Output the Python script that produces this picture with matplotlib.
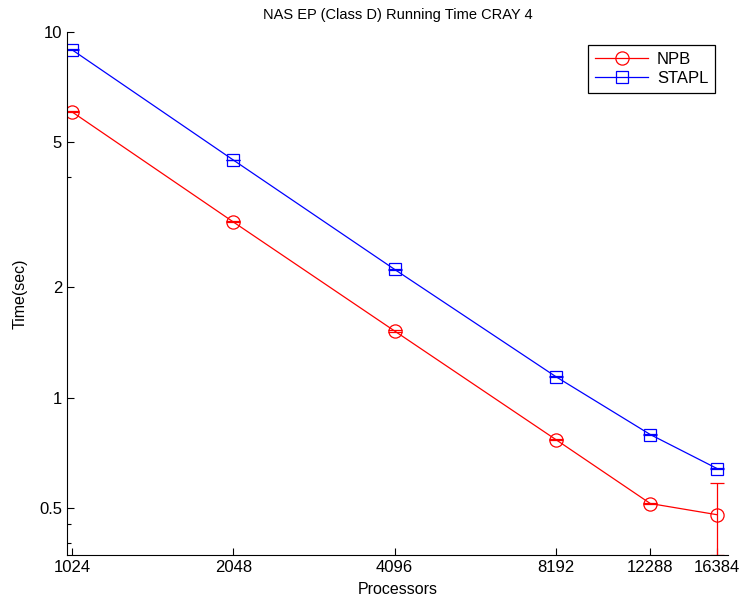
import matplotlib
matplotlib.use("Agg")
import matplotlib.pyplot as plt
from matplotlib.lines import Line2D
from matplotlib.ticker import FixedLocator, NullFormatter

plt.rcParams['font.family'] = ['Liberation Sans', 'DejaVu Sans']

procs = [1024, 2048, 4096, 8192, 12288, 16384]
npb = [6.04, 3.02, 1.52, 0.767, 0.513, 0.478]
npb_err = [0.02, 0.01, 0.005, 0.003, 0.003, 0.107]
stapl = [8.93, 4.46, 2.24, 1.14, 0.792, 0.639]
stapl_err = [0.02, 0.01, 0.005, 0.003, 0.003, 0.003]
yticks = [0.5, 1, 2, 5, 10]
ytick_labels = ['0.5', '1', '2', '5', '10']
yminor = [0.4, 0.45, 4]

fig = plt.figure(figsize=(7.4, 6), dpi=100)
ax = fig.add_axes([0.0905, 0.075, 0.8935, 0.872])

ax.errorbar(procs, npb, yerr=npb_err, color='red', marker='o', markersize=9.5,
            markerfacecolor='none', linewidth=0.9, elinewidth=0.9, capsize=5,
            markeredgewidth=0.9)
ax.errorbar(procs, stapl, yerr=stapl_err, color='blue', marker='s', markersize=8.5,
            markerfacecolor='none', linewidth=0.9, elinewidth=0.9, capsize=5,
            markeredgewidth=0.9)

ax.set_xscale('log')
ax.set_yscale('log')
ax.set_xlim(1002, 17170)
ax.set_ylim(0.371, 10)
ax.xaxis.set_major_locator(FixedLocator(procs))
ax.xaxis.set_minor_locator(FixedLocator([]))
ax.set_xticklabels([str(p) for p in procs])
ax.yaxis.set_major_locator(FixedLocator(yticks))
ax.set_yticklabels(ytick_labels)
ax.yaxis.set_minor_locator(FixedLocator(yminor))
ax.yaxis.set_minor_formatter(NullFormatter())

ax.spines['top'].set_visible(False)
ax.spines['right'].set_visible(False)
ax.tick_params(direction='in', which='major', length=5, labelsize=12, width=0.8)
ax.tick_params(direction='in', which='minor', length=3, width=0.8)

ax.set_xlabel('Processors', fontsize=11.5, labelpad=5)
ax.set_ylabel('Time(sec)', fontsize=11.5, labelpad=8)
ax.set_title('NAS EP (Class D) Running Time CRAY 4', fontsize=10.5, pad=9)

handles = [
    Line2D([], [], color='red', marker='o', markersize=9.5, markerfacecolor='none',
           linewidth=0.9, markeredgewidth=0.9),
    Line2D([], [], color='blue', marker='s', markersize=8.5, markerfacecolor='none',
           linewidth=0.9, markeredgewidth=0.9),
]
leg = ax.legend(handles, ['NPB', 'STAPL'], loc='upper right', fontsize=12,
                fancybox=False, edgecolor='black', framealpha=1,
                borderaxespad=0.8, handlelength=3.2, labelspacing=0.25,
                borderpad=0.4, handletextpad=0.5)
leg.get_frame().set_linewidth(0.9)

fig.savefig('out.png', dpi=100)
